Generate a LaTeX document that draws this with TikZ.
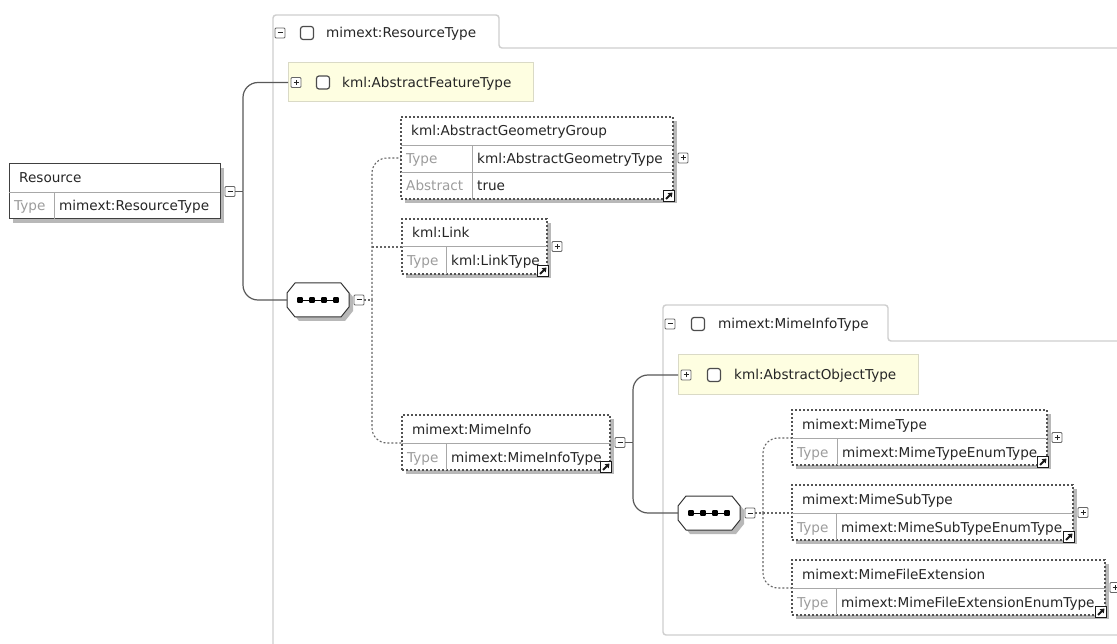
\documentclass[tikz,border=0pt]{standalone}
\usepackage{fontspec}
\setmainfont{DejaVu Sans}
\usetikzlibrary{calc,shadows,arrows.meta}

\definecolor{featfill}{HTML}{FEFEE1}
\definecolor{featline}{HTML}{DADAC6}
\definecolor{panelgray}{HTML}{CFCFCF}
\definecolor{rowgray}{HTML}{A8A8A8}
\definecolor{typegray}{HTML}{9C9C9C}

\tikzset{
  txt/.style={anchor=base west, inner sep=0pt, text=black!85},
  typetxt/.style={txt, text=typegray},
  elembox/.style={draw=black!75, line width=1pt, fill=white, anchor=north west,
    inner sep=0pt, outer sep=0pt,
    drop shadow={shadow xshift=4pt, shadow yshift=-4pt, fill=black!28, opacity=1}},
  optbox/.style={elembox, draw=black!68, line width=1.1pt, dash pattern=on 2pt off 2pt},
  typebox/.style={draw=featline, line width=1pt, fill=featfill, anchor=north west,
    inner sep=0pt, outer sep=0pt},
  seqbox/.style={rectangle, minimum width=62pt, minimum height=34pt,
    inner sep=0pt, outer sep=0pt},
  minusbox/.style={draw=black!60, line width=0.9pt, fill=white, minimum size=10pt,
    inner sep=0pt, outer sep=0pt, rounded corners=1pt,
    path picture={\draw[black!85, line width=1pt]
      ([xshift=2.5pt]path picture bounding box.west)
      -- ([xshift=-2.5pt]path picture bounding box.east);}},
  plusbox/.style={draw=black!60, line width=0.9pt, fill=white, minimum size=10pt,
    inner sep=0pt, outer sep=0pt, rounded corners=1pt,
    path picture={\draw[black!85, line width=1pt]
      ([xshift=2.5pt]path picture bounding box.west)
      -- ([xshift=-2.5pt]path picture bounding box.east)
      ([yshift=2.5pt]path picture bounding box.south)
      -- ([yshift=-2.5pt]path picture bounding box.north);}},
  checkbox/.style={draw=black!70, line width=1.2pt, fill=white, rounded corners=2.5pt,
    minimum size=13pt, inner sep=0pt, outer sep=0pt},
  refmark/.style={draw=black!90, line width=1pt, fill=white, minimum size=11pt,
    inner sep=0pt, outer sep=0pt,
    path picture={\draw[line width=1.8pt, -{Triangle[length=4pt,width=5.5pt]}]
      ([shift={(2.5pt,2.5pt)}]path picture bounding box.south west)
      -- ([shift={(-2pt,-2pt)}]path picture bounding box.north east);}},
  rowline/.style={draw=rowgray, line width=1pt},
  solidline/.style={draw=black!65, line width=1.2pt, rounded corners=15pt},
  dotline/.style={draw=black!60, line width=1.1pt, dash pattern=on 2pt off 2pt,
    rounded corners=15pt},
  panel/.style={draw=panelgray, line width=1.4pt, rounded corners=3pt},
}

\begin{document}
\begin{tikzpicture}[x=1pt, y=-1pt, font=\fontsize{13.6}{16}\selectfont]
  \useasboundingbox (0,0) rectangle (1117,644);
  \fill[white] (0,0) rectangle (1117,644);

  % the outer panel with its tab
  \draw[panel] (273,650) -- (273,15) -- (499,15) -- (499,48) -- (1125,48);
  \node[minusbox] (tab1m) at (280,33) {};
  \node[checkbox] (tab1c) at (307,33) {};
  \node[txt] (tab1t) at (326,38) {mimext:ResourceType};

  % the inner panel with its tab
  \draw[panel] (1125,635) -- (663,635) -- (663,305) -- (888,305) -- (888,341) -- (1125,341);
  \node[minusbox] (tab2m) at (670,324) {};
  \node[checkbox] (tab2c) at (698,324) {};
  \node[txt] (tab2t) at (718,329) {mimext:MimeInfoType};

  % the global element Resource
  \node[elembox, minimum width=211pt, minimum height=55pt] (res) at (9,164) {};
  \draw[rowline] ($(res.north west)+(0,29)$) -- ($(res.north east)+(0,29)$);
  \draw[rowline] ($(res.north west)+(45,29)$) -- ($(res.south west)+(45,0)$);
  \node[txt] (res-title) at ($(res.north west)+(10,19)$) {Resource};
  \node[typetxt] (res-tlab) at ($(res.north west)+(5,47)$) {Type};
  \node[txt] (res-tval) at ($(res.north west)+(50,47)$) {mimext:ResourceType};
  \node[minusbox] (res-exp) at ($(res.east)+(10,0)$) {};

  % the base types (yellow)
  \node[typebox, minimum width=245pt, minimum height=39pt] (feat) at (288,63) {};
  \node[plusbox] (feat-exp) at ($(feat.west)+(8,0)$) {};
  \node[checkbox] (feat-chk) at ($(feat.west)+(35,0)$) {};
  \node[txt] (feat-txt) at ($(feat.west)+(54,5)$) {kml:AbstractFeatureType};

  \node[typebox, minimum width=240pt, minimum height=40pt] (objt) at (678,355) {};
  \node[plusbox] (objt-exp) at ($(objt.west)+(8,0)$) {};
  \node[checkbox] (objt-chk) at ($(objt.west)+(36,0)$) {};
  \node[txt] (objt-txt) at ($(objt.west)+(56,5)$) {kml:AbstractObjectType};

  % the abstract geometry group, three rows
  \node[optbox, minimum width=272pt, minimum height=82pt] (geom) at (401,117) {};
  \draw[rowline] ($(geom.north west)+(0,29)$) -- ($(geom.north east)+(0,29)$);
  \draw[rowline] ($(geom.north west)+(0,56)$) -- ($(geom.north east)+(0,56)$);
  \draw[rowline] ($(geom.north west)+(71,29)$) -- ($(geom.south west)+(71,0)$);
  \node[txt] (geom-title) at ($(geom.north west)+(10,19)$) {kml:AbstractGeometryGroup};
  \node[typetxt] (geom-tlab) at ($(geom.north west)+(5,47)$) {Type};
  \node[txt] (geom-tval) at ($(geom.north west)+(76,47)$) {kml:AbstractGeometryType};
  \node[typetxt] (geom-alab) at ($(geom.north west)+(5,74)$) {Abstract};
  \node[txt] (geom-aval) at ($(geom.north west)+(76,74)$) {true};
  \node[plusbox] (geom-exp) at ($(geom.east)+(10,0)$) {};
  \node[refmark] (geom-ref) at ($(geom.south east)+(-4,-3)$) {};
  \coordinate (geom-in) at ($(geom.north west)+(0,41)$);

  % the optional elements with a type row
  \foreach \nm/\xx/\yy/\ww/\col/\mk/\ttl/\val in {
      link/402/219/145/44/plusbox/kml:Link/kml:LinkType,
      info/402/415/208/44/minusbox/mimext:MimeInfo/mimext:MimeInfoType,
      mtype/792/410/255/45/plusbox/mimext:MimeType/mimext:MimeTypeEnumType,
      msub/792/485/281/44/plusbox/mimext:MimeSubType/mimext:MimeSubTypeEnumType,
      mext/792/560/313/44/plusbox/mimext:MimeFileExtension/mimext:MimeFileExtensionEnumType}{
    \node[optbox, minimum width=\ww pt, minimum height=55pt] (\nm) at (\xx,\yy) {};
    \draw[rowline] ($(\nm.north west)+(0,28)$) -- ($(\nm.north east)+(0,28)$);
    \draw[rowline] ($(\nm.north west)+(\col,28)$) -- ($(\nm.south west)+(\col,0)$);
    \node[txt] (\nm-title) at ($(\nm.north west)+(10,19)$) {\ttl};
    \node[typetxt] (\nm-tlab) at ($(\nm.north west)+(5,47)$) {Type};
    \node[txt] (\nm-tval) at ($(\nm.north west)+(\col+5,47)$) {\val};
    \node[\mk] (\nm-exp) at ($(\nm.east)+(10,0)$) {};
    \node[refmark] (\nm-ref) at ($(\nm.south east)+(-4,-3)$) {};
    \coordinate (\nm-in) at ($(\nm.north west)+(0,28)$);
  }

  % the two sequences
  \node[seqbox] (seq1) at (318,300) {};
  \node[minusbox] (seq1-exp) at ($(seq1.east)+(10,0)$) {};
  \coordinate (bus1) at ($(seq1-exp.east)+(8,0)$);
  \node[seqbox] (seq2) at (709,513) {};
  \node[minusbox] (seq2-exp) at ($(seq2.east)+(10,0)$) {};
  \coordinate (bus2) at ($(seq2-exp.east)+(8,0)$);
  % the cut corners, shadow first, and the four dots
  \foreach \s in {seq1,seq2}{
    \foreach \o/\f/\d in {4/black!28/none, 0/white/black!80}
      \filldraw[fill=\f, draw=\d, line width=1pt]
        ($(\s.north west)+(\o,10+\o)$) -- ($(\s.north west)+(8+\o,\o)$)
        -- ($(\s.north east)+(-8+\o,\o)$) -- ($(\s.north east)+(\o,10+\o)$)
        -- ($(\s.south east)+(\o,-10+\o)$) -- ($(\s.south east)+(-8+\o,\o)$)
        -- ($(\s.south west)+(8+\o,\o)$) -- ($(\s.south west)+(\o,-10+\o)$) -- cycle;
    \draw[line width=0.8pt] ($(\s.center)+(-18,0)$) -- ($(\s.center)+(18,0)$);
    \foreach \dx in {-18,-6,6,18}
      \fill[rounded corners=0.8pt] ($(\s.center)+(\dx-2.8,-2.8)$)
        rectangle ($(\s.center)+(\dx+2.8,2.8)$);
  }

  % Resource -> its content
  \coordinate (trunk1) at ($(res-exp.east)+(8,0)$);
  \draw[solidline] (res-exp.east) -- (trunk1);
  \draw[solidline] (trunk1) |- (feat.west);
  \draw[solidline] (trunk1) |- (seq1.west);

  % sequence 1 -> its elements
  \draw[dotline] (seq1-exp.east) -- (bus1);
  \draw[dotline] (bus1) |- (geom-in);
  \draw[dotline] (bus1 |- link-in) -- (link-in);
  \draw[dotline] (bus1) |- (info-in);

  % MimeInfo -> its content
  \coordinate (trunk2) at ($(info-exp.east)+(8,0)$);
  \draw[solidline] (info-exp.east) -- (trunk2);
  \draw[solidline] (trunk2) |- (objt.west);
  \draw[solidline] (trunk2) |- (seq2.west);

  % sequence 2 -> its elements
  \draw[dotline] (seq2-exp.east) -- (bus2);
  \draw[dotline] (bus2) |- (mtype-in);
  \draw[dotline] (bus2) -- (msub-in);
  \draw[dotline] (bus2) |- (mext-in);
\end{tikzpicture}
\end{document}
